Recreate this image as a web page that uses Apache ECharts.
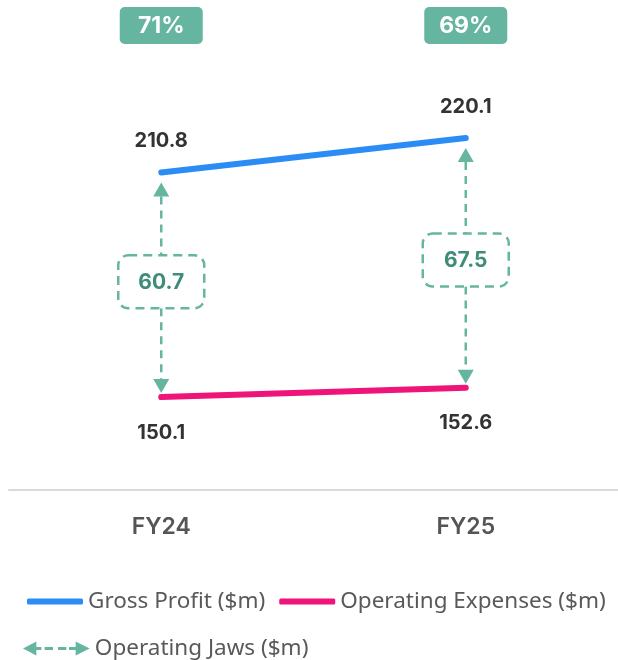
<!DOCTYPE html>
<html>
<head>
<meta charset="utf-8">
<script src="https://cdn.jsdelivr.net/npm/echarts@6/dist/echarts.min.js"></script>
<style>
  html, body { margin: 0; padding: 0; background: #fff; }
  #chart { width: 618px; height: 660px; }
</style>
</head>
<body>
<div id="chart"></div>
<script>
// values
const years = ['FY24', 'FY25'];
const grossProfit = [210.8, 220.1];
const opex = [150.1, 152.6];
const jaws = [60.7, 67.5];
const margins = ['71%', '69%'];

const teal = '#66b5a1';
const tealText = '#3f8c79';
const labelFont = 'Inter';

const chart = echarts.init(document.getElementById('chart'));

// one item per year: [x, top value, bottom value, jaw]
const jawData = years.map((y, i) => [i, grossProfit[i], opex[i], jaws[i]]);
const badgeData = years.map((y, i) => [i, margins[i]]);

function renderJaw(params, api) {
  const top = api.coord([api.value(0), api.value(1)]);
  const bot = api.coord([api.value(0), api.value(2)]);
  const x = top[0];
  const y1 = top[1] + 10;
  const y2 = bot[1] - 4;
  const mid = (top[1] + bot[1]) / 2 - 3;
  const bw = 86, bh = 53, ah = 14, aw = 8;
  const dash = { stroke: teal, lineWidth: 2.5, lineDash: [8, 6] };
  return {
    type: 'group',
    children: [
      { type: 'line', shape: { x1: x, y1: y1 + ah, x2: x, y2: mid - bh / 2 }, style: dash },
      { type: 'line', shape: { x1: x, y1: mid + bh / 2, x2: x, y2: y2 - ah }, style: dash },
      { type: 'polygon', shape: { points: [[x, y1], [x - aw, y1 + ah], [x + aw, y1 + ah]] }, style: { fill: teal } },
      { type: 'polygon', shape: { points: [[x, y2], [x - aw, y2 - ah], [x + aw, y2 - ah]] }, style: { fill: teal } },
      {
        type: 'rect',
        shape: { x: x - bw / 2, y: mid - bh / 2, width: bw, height: bh, r: 10 },
        style: { fill: '#fff', stroke: teal, lineWidth: 2.5, lineDash: [9, 6] }
      },
      {
        type: 'text',
        style: {
          text: api.value(3).toFixed(1), x: x, y: mid + 1,
          align: 'center', verticalAlign: 'middle',
          fontFamily: labelFont, fontWeight: 'bold', fontSize: 21, fill: tealText
        }
      }
    ]
  };
}

function renderBadge(params, api) {
  const x = api.coord([api.value(0), 0])[0];
  const w = 83, h = 37, yTop = 7;
  return {
    type: 'group',
    children: [
      { type: 'rect', shape: { x: x - w / 2, y: yTop, width: w, height: h, r: 5 }, style: { fill: teal } },
      {
        type: 'text',
        style: {
          text: margins[params.dataIndex], x: x, y: yTop + h / 2 + 1,
          align: 'center', verticalAlign: 'middle',
          fontFamily: labelFont, fontWeight: 'bold', fontSize: 23, fill: '#fff'
        }
      }
    ]
  };
}

const valueLabel = {
  show: true,
  color: '#333',
  fontFamily: labelFont,
  fontWeight: 'bold',
  fontSize: 20,
  formatter: p => p.value.toFixed(1)
};

const legendText = { color: '#595959', fontFamily: 'Noto Sans', fontSize: 22.5 };

chart.setOption({
  animation: false,
  grid: { left: 9, width: 612, top: 20, height: 470 },
  xAxis: {
    type: 'category',
    data: years,
    boundaryGap: true,
    axisLine: { lineStyle: { color: '#d9d9d9', width: 2 } },
    axisTick: { show: false },
    axisLabel: { color: '#555', fontFamily: labelFont, fontWeight: 600, fontSize: 23, margin: 26 }
  },
  yAxis: {
    type: 'value',
    min: 125,
    max: 252,
    show: false,
    splitLine: { show: false }
  },
  legend: [
    {
      left: 27,
      top: 590,
      width: 591,
      padding: 0,
      itemGap: 14,
      itemWidth: 56,
      itemHeight: 6,
      textStyle: legendText,
      data: [
        { name: 'Gross Profit ($m)', icon: 'roundRect' },
        { name: 'Operating Expenses ($m)', icon: 'roundRect' }
      ]
    },
    {
      left: 23,
      top: 637,
      padding: 0,
      itemWidth: 67,
      itemHeight: 14,
      textStyle: legendText,
      data: [{
        name: 'Operating Jaws ($m)',
        icon: 'path://M0,21L40,0L40,42ZM38,16.5H55V25.5H38ZM65,16.5H90V25.5H65ZM105,16.5H130V25.5H105ZM138,16.5H162V25.5H138ZM158,0L200,21L158,42Z'
      }]
    }
  ],
  series: [
    {
      name: 'Gross Profit ($m)',
      type: 'line',
      data: grossProfit,
      symbol: 'circle',
      symbolSize: 1,
      color: '#2b8cf6',
      lineStyle: { width: 6, cap: 'round' },
      label: Object.assign({ position: 'top', distance: 21 }, valueLabel),
      z: 3
    },
    {
      name: 'Operating Expenses ($m)',
      type: 'line',
      data: opex,
      symbol: 'circle',
      symbolSize: 1,
      color: '#f0147a',
      lineStyle: { width: 6, cap: 'round' },
      label: Object.assign({ position: 'bottom', distance: 25 }, valueLabel),
      z: 3
    },
    {
      name: 'Operating Jaws ($m)',
      type: 'custom',
      color: teal,
      data: jawData,
      renderItem: renderJaw,
      z: 2
    },
    {
      name: 'margin',
      type: 'custom',
      data: badgeData,
      renderItem: renderBadge,
      silent: true
    }
  ]
});
</script>
</body>
</html>
